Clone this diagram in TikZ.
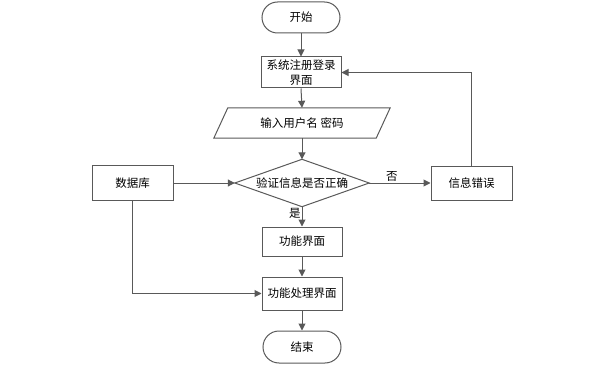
\documentclass[tikz,border=0pt]{standalone}
\usepackage{fontspec}
\newfontfamily\cjk{Noto Sans CJK SC}
\usetikzlibrary{arrows.meta,shapes.misc,calc}
\definecolor{linec}{HTML}{595959}
\tikzset{
  base/.style={font=\cjk\fontsize{11.5}{15}\selectfont, text=black, inner sep=1pt, align=center},
  boxnode/.style={base, draw=linec, line width=1pt, rectangle, minimum width=80pt},
  termnode/.style={base, draw=linec, line width=1pt, rounded rectangle, minimum width=80pt, minimum height=32pt},
  ghost/.style={base, rectangle},
  shapeline/.style={draw=linec, line width=1pt},
  conn/.style={draw=linec, line width=1pt, -{Triangle[length=7pt,width=7pt]}},
  lbl/.style={font=\cjk\fontsize{11.5}{14}\selectfont, text=black, inner sep=1pt}
}
\begin{document}
\begin{tikzpicture}[x=1pt,y=-1pt]
\useasboundingbox (0,0) rectangle (606,369);
\node[termnode, minimum height=31pt] (start) at (301,17.5) {开始};
\node[boxnode, minimum height=31pt] (sys) at (301,72.5) {系统注册登录\\界面};
\node[ghost, minimum width=176pt, minimum height=30pt] (input) at (302,123) {输入用户名 密码};
\draw[shapeline] ($(input.north west)+(14,0)$) -- (input.north east) -- ($(input.south east)+(-14,0)$) -- (input.south west) -- cycle;
\node[ghost, minimum width=134pt, minimum height=47pt, inner sep=0pt] (dec) at (302,183) {验证信息是否正确};
\draw[shapeline] (dec.north) -- (dec.east) -- (dec.south) -- (dec.west) -- cycle;
\node[boxnode, minimum width=81pt, minimum height=35pt] (db) at (132.5,183) {数据库};
\node[boxnode, minimum width=81pt, minimum height=34pt] (err) at (471.5,183) {信息错误};
\node[boxnode, minimum height=29pt] (func) at (302,241.5) {功能界面};
\node[boxnode, minimum height=33pt] (proc) at (302,293.5) {功能处理界面};
\node[termnode, minimum height=32pt] (end) at (302,347) {结束};

\draw[conn] (start.south) -- (sys.north);
\draw[conn] (sys.south) -- (input.north);
\draw[conn] (input.south) -- (dec.north);
\draw[conn] (dec.south) -- node[lbl, left, pos=0.33] {是} (func.north);
\draw[conn] (func.south) -- (proc.north);
\draw[conn] (proc.south) -- (end.north);
\draw[conn] (db.east) -- (dec.west);
\draw[conn] (dec.east) -- node[lbl, above, pos=0.37] {否} (err.west);
\draw[conn] (err.north) |- (sys.east);
\draw[conn] (db.south) |- (proc.west);
\end{tikzpicture}
\end{document}
